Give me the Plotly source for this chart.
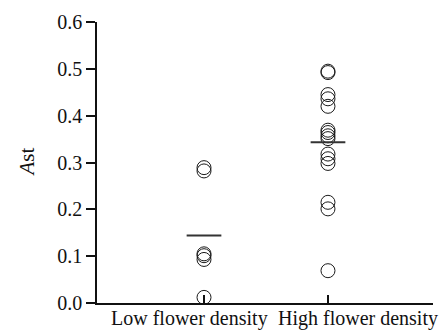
import plotly.graph_objects as go

# ---- data ----
categories = ["Low flower density", "High flower density"]
cat_pos = [1, 2]
low_values = [0.289, 0.282, 0.105, 0.101, 0.093, 0.012]
high_values = [0.495, 0.492, 0.445, 0.436, 0.420, 0.369, 0.364, 0.357,
               0.351, 0.318, 0.308, 0.298, 0.215, 0.201, 0.069]
mean_values = [0.144, 0.343]
y_ticks = [0.0, 0.1, 0.2, 0.3, 0.4, 0.5, 0.6]
y_ticktext = ["0.0", "0.1", "0.2", "0.3", "0.4", "0.5", "0.6"]

FONT = "Liberation Serif"
fig = go.Figure()

marker = dict(symbol="circle-open", size=14, color="#1a1a1a",
              line=dict(width=1, color="#1a1a1a"))
for pos, vals in zip(cat_pos, [low_values, high_values]):
    fig.add_trace(go.Scatter(x=[pos] * len(vals), y=vals, mode="markers",
                             marker=marker, showlegend=False, hoverinfo="y"))

half = 0.14
for pos, m in zip(cat_pos, mean_values):
    fig.add_trace(go.Scatter(x=[pos - half, pos + half], y=[m, m], mode="lines",
                             line=dict(color="#333333", width=2),
                             showlegend=False, hoverinfo="skip"))

x_min, x_max = 0.137, 2.847
fig.update_layout(
    width=444, height=331,
    margin=dict(l=97, r=11, t=16, b=28),
    paper_bgcolor="white", plot_bgcolor="white",
    font=dict(family=FONT, size=19, color="#111111"),
    xaxis=dict(range=[x_min, x_max], showgrid=False, zeroline=False,
               showline=True, linecolor="#111111", linewidth=1.5,
               tickmode="array", tickvals=[1, 2, x_max], ticktext=["", "", ""],
               ticks="inside", ticklen=8, tickwidth=1.5, tickcolor="#111111"),
    yaxis=dict(range=[0, 0.6], showgrid=False, zeroline=False,
               showline=True, linecolor="#111111", linewidth=1.5,
               tickmode="array", tickvals=y_ticks, ticktext=y_ticktext,
               ticks="outside", ticklen=9, tickwidth=1.5, tickcolor="#111111",
               tickfont=dict(family=FONT, size=20, color="#111111")),
)

label_x = [0.879, 2.242]
for lx, txt in zip(label_x, categories):
    fig.add_annotation(x=lx, xref="x", y=-0.056, yref="paper", text=txt,
                       showarrow=False, xanchor="center", yanchor="middle",
                       font=dict(family=FONT, size=20, color="#111111"))

fig.add_annotation(x=-0.211, xref="paper", y=0.5, yref="paper",
                   text="<i>A</i>st", textangle=-90, showarrow=False,
                   xanchor="center", yanchor="middle",
                   font=dict(family=FONT, size=21, color="#111111"))

fig.write_html("out.html")
